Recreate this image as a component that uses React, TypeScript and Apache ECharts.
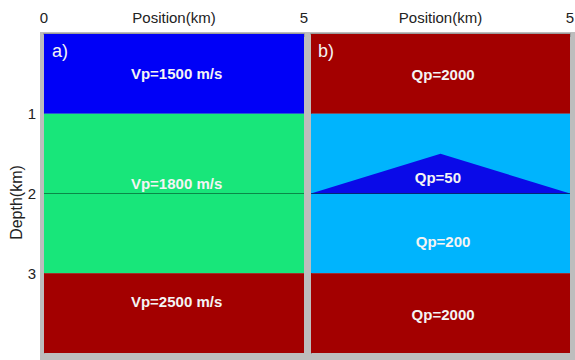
import React, { useEffect, useRef } from 'react';
import * as echarts from 'echarts';

const positionMin = 0;
const positionMax = 5;
const depthMin = 0;
const depthMax = 4;
const xTickLabelsA = ['0', '5'];
const xTickLabelsB = ['5'];
const depthTickLabels = ['1', '2', '3'];

// Panel a) velocity model
const vpTops = [0, 1, 3];
const vpBottoms = [1, 3, 4];
const vpValues = [1500, 1800, 2500];
const vpColors = ['#0000f7', '#18e67a', '#a30000'];
const vpLabelX = [2.55, 2.55, 2.55];
const vpLabelDepths = [0.5, 1.87, 3.36];

// Panel b) Q model
const qpTops = [0, 1, 3];
const qpBottoms = [1, 3, 4];
const qpValues = [2000, 200, 2000];
const qpColors = ['#a30000', '#00b4fd', '#a30000'];
const qpLabelX = [2.55, 2.55, 2.55];
const qpLabelDepths = [0.51, 2.6, 3.52];
const lensX = [0, 2.5, 5];
const lensDepth = [2, 1.5, 2];
const lensQp = 50;
const lensColor = '#0a0ae8';
const lensLabelX = 2.45;
const lensLabelDepth = 1.8;

const interfaceDepth = 2;

const FONT = '"Liberation Sans", Arial, sans-serif';

function rectSeries(gridIdx: number, tops: number[], bottoms: number[], colors: string[]) {
  return {
    type: 'custom',
    xAxisIndex: gridIdx,
    yAxisIndex: gridIdx,
    z: 2,
    encode: { x: [0, 1], y: [2, 3] },
    data: tops.map((t, i) => [positionMin, positionMax, t, bottoms[i]]),
    renderItem: (params: any, api: any) => {
      const p0 = api.coord([api.value(0), api.value(2)]);
      const p1 = api.coord([api.value(1), api.value(3)]);
      return {
        type: 'rect',
        shape: { x: p0[0], y: p0[1], width: p1[0] - p0[0], height: p1[1] - p0[1] },
        style: { fill: colors[params.dataIndex] },
      };
    },
  };
}

function textSeries(gridIdx: number, xs: number[], ds: number[], labels: string[]) {
  return {
    type: 'custom',
    xAxisIndex: gridIdx,
    yAxisIndex: gridIdx,
    z: 5,
    encode: { x: 0, y: 1 },
    data: xs.map((x, i) => [x, ds[i]]),
    renderItem: (params: any, api: any) => {
      const p = api.coord([api.value(0), api.value(1)]);
      return {
        type: 'text',
        x: p[0],
        y: p[1],
        style: {
          text: labels[params.dataIndex],
          fill: '#f4f4f4',
          fontSize: 15,
          fontWeight: 'bold',
          fontFamily: FONT,
          align: 'center',
          verticalAlign: 'middle',
        },
      };
    },
  };
}

function lineSeries(gridIdx: number, color: string) {
  return {
    type: 'custom',
    xAxisIndex: gridIdx,
    yAxisIndex: gridIdx,
    z: 4,
    encode: { x: [0, 1], y: 2 },
    data: [[positionMin, positionMax, interfaceDepth]],
    renderItem: (params: any, api: any) => {
      const p0 = api.coord([api.value(0), api.value(2)]);
      const p1 = api.coord([api.value(1), api.value(2)]);
      return {
        type: 'line',
        shape: { x1: p0[0], y1: p0[1], x2: p1[0], y2: p1[1] },
        style: { stroke: color, lineWidth: 1 },
      };
    },
  };
}

export default function App() {
  const ref = useRef<HTMLDivElement>(null);
  useEffect(() => {
    if (!ref.current) return;
    const chart = echarts.init(ref.current, undefined, { renderer: 'svg' });
    const xAxes = [0, 1].map((i) => ({
      gridIndex: i,
      type: 'value',
      position: 'top',
      min: positionMin,
      max: positionMax,
      interval: 1.25,
      name: 'Position(km)',
      nameLocation: 'middle',
      nameGap: 9,
      nameMoveOverlap: false,
      nameTextStyle: { fontSize: 15, color: '#222', fontFamily: FONT, verticalAlign: 'bottom' },
      axisLine: { show: true, lineStyle: { color: '#9c9c9c', width: 2 } },
      axisTick: { show: true, inside: true, length: 3, lineStyle: { color: '#a0a0a0' } },
      axisLabel: {
        showMinLabel: true,
        showMaxLabel: true,
        margin: 9,
        fontSize: 15,
        color: '#222',
        fontFamily: FONT,
        formatter: (v: number) => {
          const s = String(v);
          const list = i === 0 ? xTickLabelsA : xTickLabelsB;
          return list.includes(s) ? s : '';
        },
      },
      splitLine: { show: false },
    }));
    const yAxes = [0, 1].map((i) => ({
      gridIndex: i,
      type: 'value',
      inverse: true,
      min: depthMin,
      max: depthMax,
      interval: 1,
      name: i === 0 ? 'Depth(km)' : '',
      nameLocation: 'middle',
      nameGap: 20,
      nameMoveOverlap: false,
      nameTextStyle: { fontSize: 16, color: '#222', fontFamily: FONT, padding: [0, 18, 0, 0] },
      axisLine: { show: true, lineStyle: { color: i === 0 ? '#8a8a8a' : '#555', width: 1 } },
      axisTick: { show: false },
      axisLabel: {
        show: i === 0,
        margin: 8,
        fontSize: 15,
        color: '#222',
        fontFamily: FONT,
        formatter: (v: number) => (depthTickLabels.includes(String(v)) ? String(v) : ''),
      },
      splitLine: { show: false },
    }));

    chart.setOption({
      animation: false,
      backgroundColor: '#ffffff',
      grid: [
        { left: 44, top: 34, width: 260, height: 319, outerBoundsMode: 'none', containLabel: false },
        { left: 311, top: 34, width: 259, height: 319, outerBoundsMode: 'none', containLabel: false },
      ],
      xAxis: xAxes,
      yAxis: yAxes,
      graphic: [
        { type: 'rect', z: -10, shape: { x: 40, y: 32, width: 535, height: 328 }, style: { fill: '#bdbdbd' } },
        { type: 'text', z: 10, left: 52, top: 42, style: { text: 'a)', fill: '#f4f4f4', fontSize: 18, fontFamily: FONT } },
        { type: 'text', z: 10, left: 318, top: 42, style: { text: 'b)', fill: '#f4f4f4', fontSize: 18, fontFamily: FONT } },
      ],
      series: [
        rectSeries(0, vpTops, vpBottoms, vpColors),
        rectSeries(1, qpTops, qpBottoms, qpColors),
        lineSeries(0, 'rgba(0,60,30,0.55)'),
        {
          type: 'custom',
          xAxisIndex: 1,
          yAxisIndex: 1,
          z: 3,
          encode: { x: 0, y: 1 },
          data: [[lensX[1], lensDepth[1]]],
          renderItem: (_params: any, api: any) => {
            const pts = lensX.map((x, i) => api.coord([x, lensDepth[i]]));
            return { type: 'polygon', shape: { points: pts }, style: { fill: lensColor } };
          },
        },
        lineSeries(1, 'rgba(0,0,40,0.6)'),
        textSeries(0, vpLabelX, vpLabelDepths, vpValues.map((v) => `Vp=${v} m/s`)),
        textSeries(1, qpLabelX, qpLabelDepths, qpValues.map((v) => `Qp=${v}`)),
        textSeries(1, [lensLabelX], [lensLabelDepth], [`Qp=${lensQp}`]),
      ],
    });
    return () => chart.dispose();
  }, []);
  return <div ref={ref} style={{ position: 'fixed', left: 0, top: 0, width: 575, height: 360 }} />;
}
